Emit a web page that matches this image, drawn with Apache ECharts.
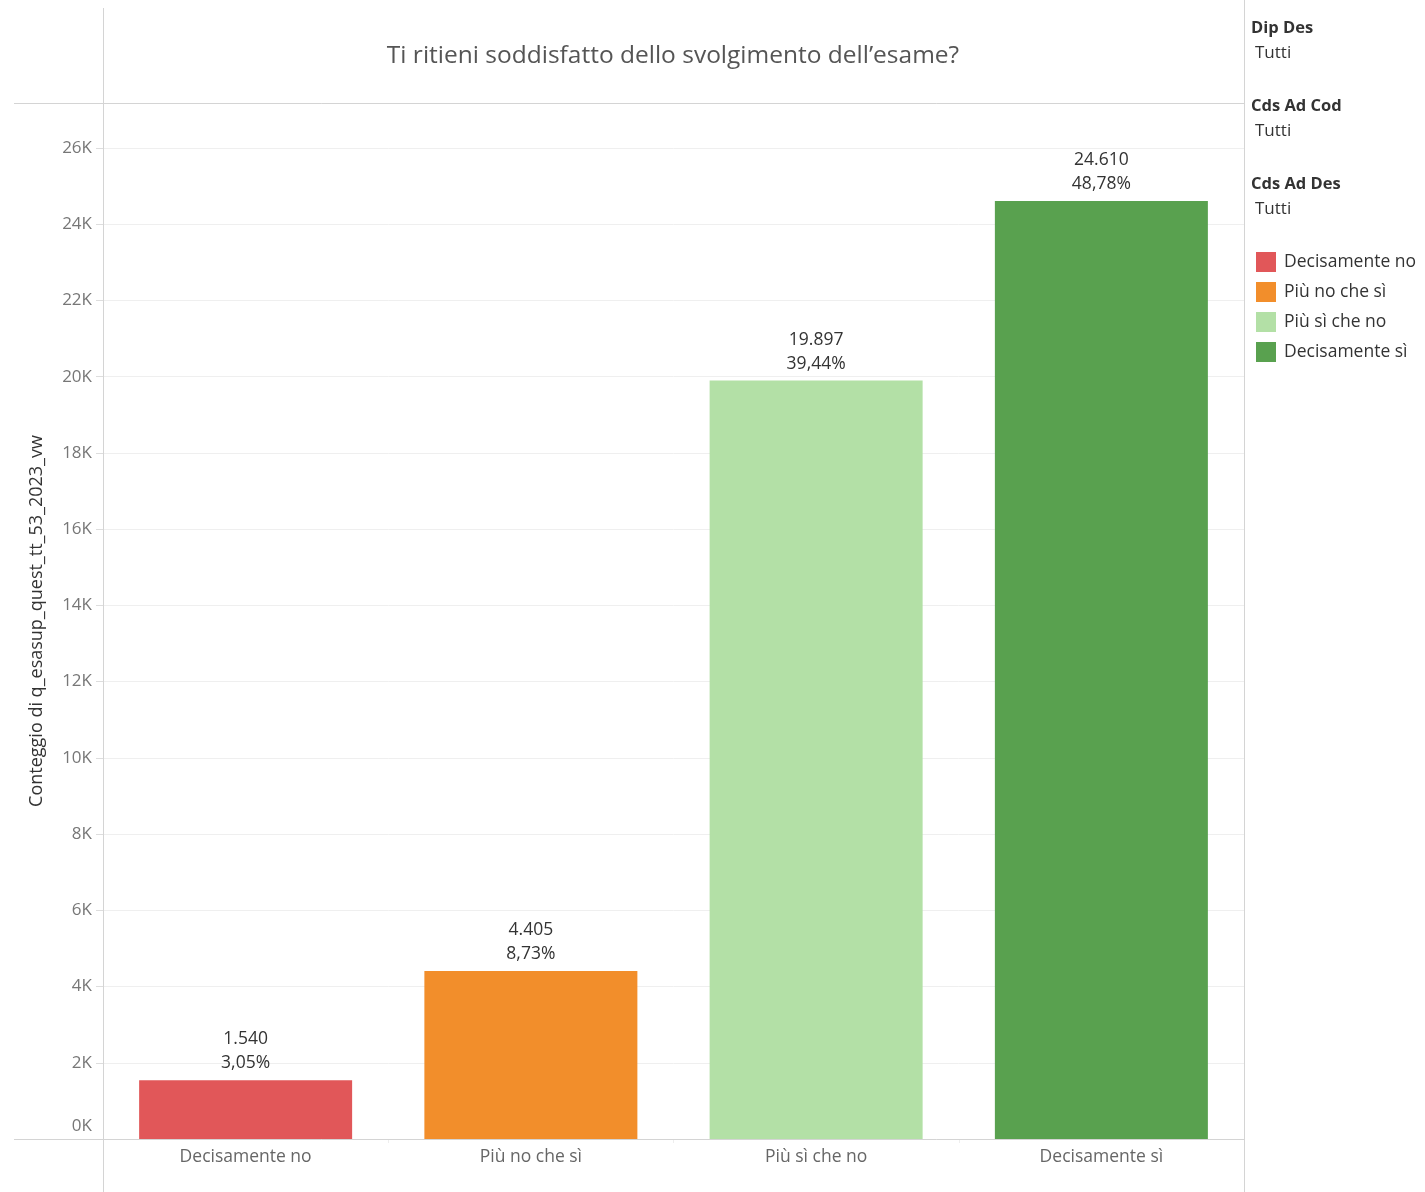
<!DOCTYPE html>
<html><head><meta charset="utf-8">
<script src="https://cdn.jsdelivr.net/npm/echarts@6/dist/echarts.min.js"></script>
<style>html,body{margin:0;padding:0;background:#fff}#c{width:1425px;height:1192px}</style>
</head><body><div id="c"></div>
<script>
const categories = ['Decisamente no','Più no che sì','Più sì che no','Decisamente sì'];
const counts = [1540, 4405, 19897, 24610];
const countLabels = ['1.540','4.405','19.897','24.610'];
const percentLabels = ['3,05%','8,73%','39,44%','48,78%'];
const colors = ['#e15759','#f28e2b','#b3e0a6','#59a14f'];
const filters = [['Dip Des','Tutti'],['Cds Ad Cod','Tutti'],['Cds Ad Des','Tutti']];
const FONT = '"Open Sans", "Noto Sans", sans-serif';

const chart = echarts.init(document.getElementById('c'));
const series = categories.map((name, i) => ({
  name, type: 'bar', stack: 'all', barWidth: 213,
  itemStyle: { color: colors[i] },
  data: categories.map((c, j) => j === i ? counts[i] : null),
  label: { show: true, position: 'top', distance: 5, color: '#333', fontSize: 17.5, fontFamily: FONT, lineHeight: 24,
    formatter: () => countLabels[i] + '\n' + percentLabels[i] }
}));

const graphics = [
  { type: 'line', shape: { x1: 103.5, y1: 8, x2: 103.5, y2: 1192 }, style: { stroke: '#d4d4d4', lineWidth: 1 }, z: 10 },
  { type: 'line', shape: { x1: 1244.5, y1: 0, x2: 1244.5, y2: 1192 }, style: { stroke: '#d4d4d4', lineWidth: 1 }, z: 10 },
  { type: 'line', shape: { x1: 14, y1: 103.5, x2: 1244, y2: 103.5 }, style: { stroke: '#d4d4d4', lineWidth: 1 }, z: 10 },
  { type: 'line', shape: { x1: 14, y1: 1139.5, x2: 1244, y2: 1139.5 }, style: { stroke: '#d4d4d4', lineWidth: 1 }, z: 10 },
  { type: 'text', style: { text: 'Ti ritieni soddisfatto dello svolgimento dell’esame?', x: 673, y: 56, align: 'center', verticalAlign: 'middle', fill: '#555', fontSize: 24.5, fontFamily: FONT } }
];
filters.forEach((f, k) => {
  graphics.push({ type: 'text', style: { text: f[0], x: 1251, y: 28 + 78 * k, verticalAlign: 'middle', fill: '#333', fontSize: 16.5, fontWeight: 'bold', fontFamily: FONT } });
  graphics.push({ type: 'text', style: { text: f[1], x: 1255, y: 53 + 78 * k, verticalAlign: 'middle', fill: '#333', fontSize: 17, fontFamily: FONT } });
});

chart.setOption({
  animation: false,
  textStyle: { fontFamily: FONT },
  grid: { left: 103, right: 181, top: 103, bottom: 53, containLabel: false },
  legend: {
    orient: 'vertical', left: 1251, top: 247, icon: 'rect', itemWidth: 20, itemHeight: 20, itemGap: 10,
    textStyle: { color: '#333', fontSize: 17.5, fontFamily: FONT, padding: [0, 0, 0, 3] },
    data: categories
  },
  xAxis: {
    type: 'category', data: categories,
    axisLine: { show: false },
    axisTick: { show: true, length: 4, lineStyle: { color: '#eee' } },
    axisLabel: { color: '#666', fontSize: 17.5, margin: 9, fontFamily: FONT }
  },
  yAxis: {
    type: 'value', min: 0, max: 27180, interval: 2000,
    name: 'Conteggio di q_esasup_quest_tt_53_2023_vw', nameLocation: 'middle', nameGap: 57,
    nameTextStyle: { color: '#333', fontSize: 18, fontFamily: FONT },
    axisLine: { show: false },
    axisTick: { show: true, length: 7, lineStyle: { color: '#ddd' } },
    splitLine: { lineStyle: { color: '#efefef', width: 1 } },
    axisLabel: {
      showMaxLabel: false, color: '#777', fontSize: 17, margin: 11, fontFamily: FONT,
      formatter: v => v === 0 ? '{z|0K}' : (v % 2000 === 0 ? (v / 1000) + 'K' : ''),
      rich: { z: { padding: [0, 0, 26, 0], color: '#777', fontSize: 17, fontFamily: FONT } }
    }
  },
  series,
  graphic: graphics
});
</script></body></html>
